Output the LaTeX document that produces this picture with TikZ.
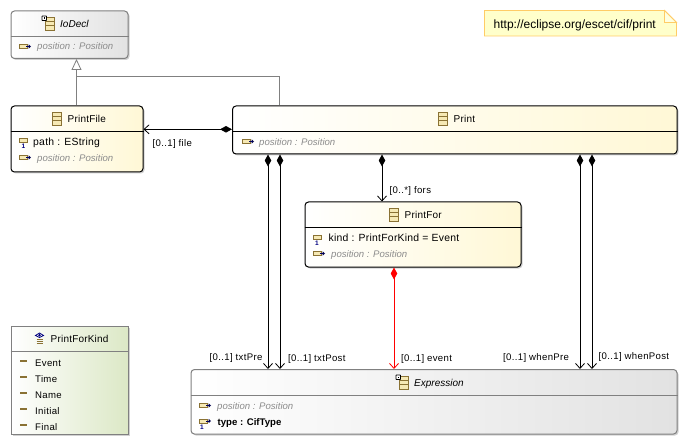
\documentclass[tikz,border=0pt]{standalone}
\usepackage{fontspec}
\setmainfont{Liberation Sans}
\usetikzlibrary{arrows.meta,shadows,shapes.geometric}
\definecolor{greyline}{HTML}{808080}
\definecolor{iconbrown}{HTML}{8A7234}
\definecolor{iconfill}{HTML}{F6E9B4}
\definecolor{notefill}{HTML}{FFFFCB}
\definecolor{noteline}{HTML}{FFCC66}
\definecolor{itgrey}{HTML}{8C8C8C}
\definecolor{classend}{HTML}{FFF8D6}
\definecolor{absend}{HTML}{E2E2E2}
\definecolor{enumend}{HTML}{DCE8C6}
\tikzset{
  x=1pt,y=-1pt,
  boxbase/.style={rounded corners=3.5pt,line width=1pt,inner sep=0pt,anchor=north west,shading=axis,shading angle=-65,
    drop shadow={shadow xshift=1.5pt,shadow yshift=-1.5pt,fill=black!40,opacity=.45}},
  classbox/.style={boxbase,draw=black,left color=white,right color=classend},
  absbox/.style={boxbase,draw=greyline,left color=white,right color=absend},
  enumbox/.style={boxbase,rounded corners=0pt,draw=greyline,left color=white,right color=enumend},
  sep/.style={line width=.8pt},
  title/.style={font=\fontsize{10}{12}\selectfont,anchor=base west,inner sep=0pt},
  ttitle/.style={title,font=\fontsize{10}{12}\selectfont\addfontfeature{LetterSpace=2}},
  attr/.style={anchor=base west,inner sep=0pt,font=\fontsize{10.4}{12}\selectfont\addfontfeature{LetterSpace=2.4}},
  inh/.style={anchor=base west,inner sep=0pt,text=itgrey,font=\fontsize{9.6}{12}\selectfont\itshape},
  lbl/.style={anchor=base west,inner sep=0pt,font=\fontsize{9.6}{12}\selectfont\addfontfeature{LetterSpace=3.4}},
  comp/.style={line width=1pt,{Diamond[fill=black,length=12pt,width=6.5pt]}-{Straight Barb[length=5pt,width=9pt,line width=.8pt]}},
  gen/.style={line width=.8pt,draw=greyline},
  classicon/.pic={
    \draw[iconbrown,fill=iconfill,line width=.8pt] (-4.5,-6.5) rectangle (4.5,6.5);
    \draw[iconbrown,line width=.8pt] (-4.5,-2.2) -- (4.5,-2.2) (-4.5,2.2) -- (4.5,2.2);
  },
  absicon/.pic={
    \draw[iconbrown,fill=iconfill,line width=.8pt] (-4.5,-6.5) rectangle (4.5,6.5);
    \draw[iconbrown,line width=.8pt] (-4.5,-2.2) -- (4.5,-2.2) (-4.5,2.2) -- (4.5,2.2);
    \draw[black,fill=white,line width=.9pt,rounded corners=.5pt] (-7.5,-7.5) rectangle (-3,-3);
    \fill[black] (-6,-6) rectangle (-4.5,-4.5);
  },
  inhicon/.pic={
    \draw[iconbrown,fill=iconfill,line width=.8pt] (-6,-2.2) rectangle (2.5,2.2);
    \draw[black!60!blue,line width=.8pt] (1,0) -- (4,0);
    \fill[black!70!blue] (3.5,-2.2) -- (6,0) -- (3.5,2.2) -- cycle;
  },
  attricon/.pic={
    \draw[iconbrown,fill=iconfill,line width=.8pt] (-4,-5) rectangle (4,-.8);
    \node[inner sep=0pt,text=blue!50!black,font=\fontsize{6.5}{7}\bfseries\selectfont] at (0,3) {1};
  },
  refonicon/.pic={
    \draw[iconbrown,fill=iconfill,line width=.8pt] (-6,-5) rectangle (2.5,-1);
    \draw[black!60!blue,line width=.8pt] (1,-3) -- (4,-3);
    \fill[black!70!blue] (3.5,-5.2) -- (6,-3) -- (3.5,-.8) -- cycle;
    \node[inner sep=0pt,text=blue!50!black,font=\fontsize{6.5}{7}\bfseries\selectfont] at (-3,3) {1};
  },
  enumicon/.pic={
    \draw[blue!50!black,line width=.8pt] (-4,-3.5) -- (0,-6) -- (4,-3.5) -- (0,-1.5) -- cycle;
    \fill[blue!50!black] (0,-3.7) circle (1.4);
    \draw[iconbrown,line width=.9pt] (-3,.5) -- (3,.5) (-3,2.5) -- (3,2.5) (-3,4.5) -- (3,4.5);
  },
  liticon/.pic={\fill[iconbrown] (-3.5,-1) rectangle (3.5,.6);},
}
\begin{document}
\begin{tikzpicture}
\useasboundingbox[fill=white] (0,0) rectangle (695,446);

% boxes
\node[absbox,minimum width=117pt,minimum height=47.5pt] (iodecl) at (10.5,10.5) {};
\node[classbox,minimum width=132pt,minimum height=66pt] (printfile) at (10.5,105.5) {};
\node[classbox,minimum width=444.5pt,minimum height=48pt] (print) at (232,105.5) {};
\node[classbox,minimum width=216pt,minimum height=65pt] (printfor) at (304.5,201.5) {};
\node[absbox,minimum width=486pt,minimum height=64.5pt] (expr) at (190.5,369) {};
\node[enumbox,minimum width=117pt,minimum height=108.5pt] (kind) at (10.5,325.5) {};

% separators
\draw[sep,draw=greyline] (iodecl.west |- 0,36.5) -- (iodecl.east |- 0,36.5);
\draw[sep] (printfile.west |- 0,131) -- (printfile.east |- 0,131);
\draw[sep] (print.west |- 0,131) -- (print.east |- 0,131);
\draw[sep] (printfor.west |- 0,227) -- (printfor.east |- 0,227);
\draw[sep,draw=greyline] (expr.west |- 0,395) -- (expr.east |- 0,395);
\draw[sep,draw=greyline] (kind.west |- 0,351.5) -- (kind.east |- 0,351.5);

% note
\path[draw=noteline,fill=notefill,line width=.9pt] (484.5,10.5) -- (664.5,10.5) -- (676.5,22.5) -- (676.5,36) -- (484.5,36) -- cycle;
\draw[noteline,fill=notefill!60!white,line width=.8pt] (664.5,10.5) -- (664.5,22.5) -- (676.5,22.5) -- cycle;
\node[anchor=base west,inner sep=0pt,font=\fontsize{12}{14}\selectfont] (url) at (493.5,29) {http://eclipse.org/escet/cif/print};

% connectors
\coordinate (bend1) at (76.5,76.5);
\coordinate (bend2) at (279.5,76.5);
\draw[gen,-{Triangle[open,fill=white,length=11pt,width=10pt,line width=.8pt]}] (printfile.north -| bend1) -- (iodecl.south -| bend1);
\draw[gen] (print.north -| bend2) -- (bend2) -- (bend1);
\draw[comp] (print.west |- 0,129.3) -- (printfile.east |- 0,129.3);
\coordinate (xa) at (268,0);
\coordinate (xb) at (280,0);
\coordinate (xc) at (382,0);
\coordinate (xd) at (394,0);
\coordinate (xe) at (580,0);
\coordinate (xf) at (592,0);
\draw[comp] (print.south -| xa) -- (expr.north -| xa);
\draw[comp] (print.south -| xb) -- (expr.north -| xb);
\draw[comp] (print.south -| xc) -- (printfor.north -| xc);
\draw[comp] (print.south -| xe) -- (expr.north -| xe);
\draw[comp] (print.south -| xf) -- (expr.north -| xf);
\draw[comp,draw=red,{Diamond[fill=red,length=12pt,width=6.5pt]}-{Straight Barb[length=5pt,width=9pt,line width=.8pt]}] (printfor.south -| xd) -- (expr.north -| xd);

% connector labels
\node[lbl] (lfile) at (152.5,147) {[0..1] file};
\node[lbl] (lfors) at (389.5,194) {[0..*] fors};
\node[lbl] (lpre) at (209.5,360) {[0..1] txtPre};
\node[lbl] (lpost) at (288,361) {[0..1] txtPost};
\node[lbl] (levent) at (401,361) {[0..1] event};
\node[lbl] (lwpre) at (503,360) {[0..1] whenPre};
\node[lbl] (lwpost) at (598.5,359) {[0..1] whenPost};

% IoDecl
\pic at (49.5,23.5) {absicon};
\node[title,font=\fontsize{10}{12}\selectfont\itshape] (t1) at (60,27.5) {IoDecl};
\pic at (25,46.5) {inhicon};
\node[inh] (a1) at (37,50) {position : Position};

% PrintFile
\pic at (56.5,118.5) {classicon};
\node[ttitle] (t2) at (67.5,122.5) {PrintFile};
\pic at (23.5,143) {attricon};
\node[attr] (a2) at (33,146) {path : EString};
\pic at (25,157.5) {inhicon};
\node[inh] (a3) at (37,161.5) {position : Position};

% Print
\pic at (442.5,118.5) {classicon};
\node[ttitle] (t3) at (453.5,122.5) {Print};
\pic at (248,141.5) {inhicon};
\node[inh] (a4) at (259,145.5) {position : Position};

% PrintFor
\pic at (393.5,214.5) {classicon};
\node[ttitle] (t4) at (404.5,218.5) {PrintFor};
\pic at (317,240) {attricon};
\node[attr] (a5) at (328.5,241.5) {kind : PrintForKind = Event};
\pic at (319,253.5) {inhicon};
\node[inh] (a6) at (331,257.5) {position : Position};

% Expression
\pic at (403.5,382.5) {absicon};
\node[title,font=\fontsize{10}{12}\selectfont\itshape] (t5) at (414,386.5) {Expression};
\pic at (205,405.5) {inhicon};
\node[inh] (a7) at (217,409.5) {position : Position};
\pic at (205,424) {refonicon};
\node[attr,font=\fontsize{9.6}{12}\bfseries\selectfont] (a8) at (217.5,425.5) {type : CifType};

% PrintForKind
\pic at (39.5,339) {enumicon};
\node[ttitle] (t6) at (50.5,342) {PrintForKind};
\pic at (23.5,361) {liticon};
\node[lbl] (e1) at (35,366) {Event};
\pic at (23.5,377) {liticon};
\node[lbl] (e2) at (35,382) {Time};
\pic at (23.5,393) {liticon};
\node[lbl] (e3) at (35,398) {Name};
\pic at (23.5,409) {liticon};
\node[lbl] (e4) at (35,414) {Initial};
\pic at (23.5,425) {liticon};
\node[lbl] (e5) at (35,430) {Final};
\end{tikzpicture}
\end{document}
